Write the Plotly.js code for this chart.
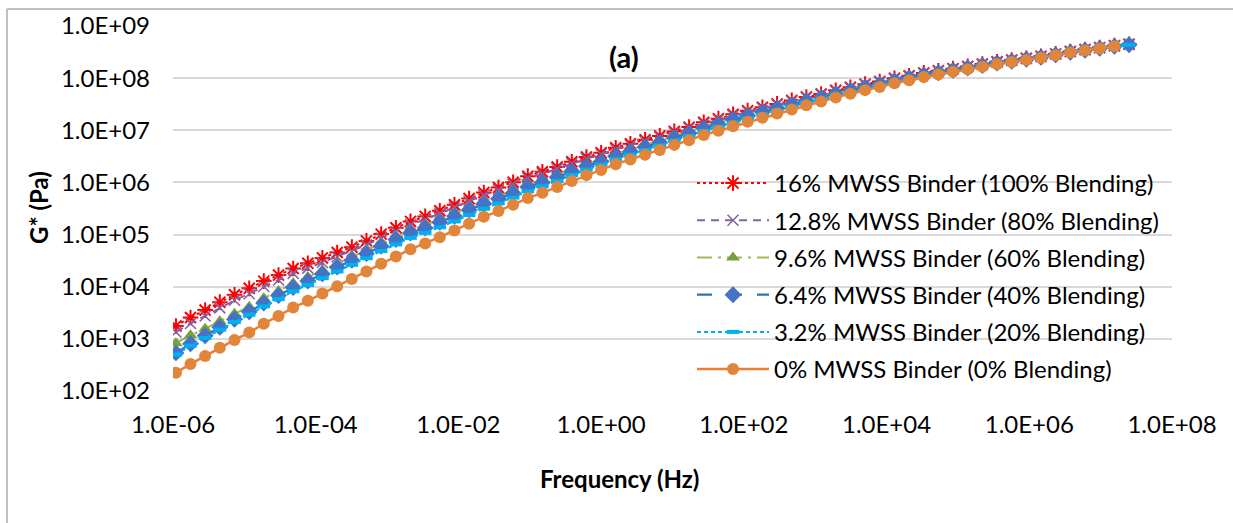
<!DOCTYPE html>
<html>
<head>
<meta charset="utf-8">
<script src="https://cdn.plot.ly/plotly-3.0.1.min.js"></script>
<style>
  html, body { margin: 0; padding: 0; background: #ffffff; }
  #chart { width: 1233px; height: 523px; }
</style>
</head>
<body>
<div id="chart"></div>
<script>
// Frequency (Hz), shared by all series
const frequency = [1.10e-6, 1.76e-6, 2.82e-6, 4.53e-6, 7.28e-6, 1.17e-5, 1.87e-5, 3.01e-5, 4.83e-5, 7.75e-5,
  1.24e-4, 2.00e-4, 3.21e-4, 5.14e-4, 8.26e-4, 1.33e-3, 2.13e-3, 3.42e-3, 5.48e-3, 8.80e-3,
  1.41e-2, 2.27e-2, 3.64e-2, 5.84e-2, 9.38e-2, 0.150, 0.242, 0.388, 0.622, 1.00,
  1.60, 2.57, 4.13, 6.63, 10.6, 17.1, 27.4, 44.0, 70.6, 113,
  182, 292, 469, 752, 1210, 1940, 3110, 5000, 8020, 12900,
  20700, 33200, 53200, 85400, 1.37e5, 2.20e5, 3.53e5, 5.67e5, 9.10e5, 1.46e6,
  2.34e6, 3.76e6, 6.04e6, 9.69e6, 1.56e7, 2.50e7];

// G* (Pa)
const g16 = [1.77e3, 2.57e3, 3.56e3, 5.06e3, 7.02e3, 9.31e3, 1.28e4, 1.67e4, 2.24e4, 2.81e4,
  3.57e4, 4.53e4, 5.74e4, 7.57e4, 1.02e5, 1.35e5, 1.79e5, 2.23e5, 2.86e5, 3.74e5,
  4.90e5, 6.38e5, 7.96e5, 1.01e6, 1.32e6, 1.60e6, 1.98e6, 2.49e6, 3.08e6, 3.72e6,
  4.63e6, 5.51e6, 6.56e6, 7.80e6, 9.53e6, 1.15e7, 1.42e7, 1.67e7, 2.02e7, 2.38e7,
  2.77e7, 3.21e7, 3.74e7, 4.36e7, 4.97e7, 5.83e7, 6.68e7, 7.67e7, 8.61e7, 9.91e7,
  1.11e8, 1.26e8, 1.38e8, 1.52e8, 1.68e8, 1.86e8, 2.06e8, 2.22e8, 2.40e8, 2.62e8,
  2.92e8, 3.25e8, 3.54e8, 3.85e8, 4.20e8, 4.47e8];
const g128 = [1.35e3, 1.97e3, 2.75e3, 3.93e3, 5.48e3, 7.33e3, 1.01e4, 1.34e4, 1.80e4, 2.27e4,
  2.92e4, 3.73e4, 4.78e4, 6.35e4, 8.63e4, 1.15e5, 1.55e5, 1.95e5, 2.52e5, 3.33e5,
  4.38e5, 5.74e5, 7.19e5, 9.20e5, 1.21e6, 1.47e6, 1.82e6, 2.31e6, 2.86e6, 3.47e6,
  4.34e6, 5.16e6, 6.17e6, 7.35e6, 9.00e6, 1.09e7, 1.35e7, 1.59e7, 1.93e7, 2.27e7,
  2.65e7, 3.08e7, 3.60e7, 4.20e7, 4.80e7, 5.65e7, 6.49e7, 7.46e7, 8.39e7, 9.68e7,
  1.09e8, 1.23e8, 1.36e8, 1.50e8, 1.66e8, 1.84e8, 2.03e8, 2.20e8, 2.38e8, 2.59e8,
  2.90e8, 3.23e8, 3.52e8, 3.85e8, 4.19e8, 4.47e8];
const g96 = [8.24e2, 1.17e3, 1.57e3, 2.18e3, 3.03e3, 4.15e3, 5.98e3, 8.24e3, 1.16e4, 1.53e4,
  2.06e4, 2.77e4, 3.72e4, 4.98e4, 6.84e4, 9.16e4, 1.22e5, 1.52e5, 1.95e5, 2.54e5,
  3.31e5, 4.34e5, 5.41e5, 6.92e5, 9.06e5, 1.11e6, 1.39e6, 1.79e6, 2.24e6, 2.75e6,
  3.51e6, 4.27e6, 5.19e6, 6.31e6, 7.83e6, 9.53e6, 1.19e7, 1.41e7, 1.71e7, 2.03e7,
  2.40e7, 2.82e7, 3.33e7, 3.92e7, 4.53e7, 5.35e7, 6.18e7, 7.16e7, 8.09e7, 9.40e7,
  1.07e8, 1.21e8, 1.34e8, 1.49e8, 1.66e8, 1.84e8, 2.04e8, 2.22e8, 2.41e8, 2.62e8,
  2.93e8, 3.28e8, 3.58e8, 3.92e8, 4.28e8, 4.57e8];
const g64 = [5.38e2, 8.04e2, 1.15e3, 1.67e3, 2.38e3, 3.30e3, 4.84e3, 6.76e3, 9.68e3, 1.29e4,
  1.76e4, 2.37e4, 3.20e4, 4.31e4, 5.94e4, 8.00e4, 1.07e5, 1.34e5, 1.72e5, 2.25e5,
  2.96e5, 3.88e5, 4.85e5, 6.22e5, 8.17e5, 1.00e6, 1.26e6, 1.63e6, 2.04e6, 2.51e6,
  3.21e6, 3.91e6, 4.76e6, 5.81e6, 7.23e6, 8.81e6, 1.10e7, 1.31e7, 1.60e7, 1.90e7,
  2.24e7, 2.64e7, 3.11e7, 3.67e7, 4.25e7, 5.02e7, 5.82e7, 6.75e7, 7.64e7, 8.87e7,
  1.01e8, 1.15e8, 1.27e8, 1.42e8, 1.57e8, 1.75e8, 1.95e8, 2.11e8, 2.30e8, 2.51e8,
  2.80e8, 3.13e8, 3.42e8, 3.74e8, 4.08e8, 4.37e8];
const g32 = [5.01e2, 7.40e2, 1.04e3, 1.50e3, 2.11e3, 2.90e3, 4.20e3, 5.79e3, 8.20e3, 1.08e4,
  1.46e4, 1.96e4, 2.63e4, 3.52e4, 4.84e4, 6.49e4, 8.65e4, 1.08e5, 1.38e5, 1.79e5,
  2.37e5, 3.13e5, 3.95e5, 5.12e5, 6.78e5, 8.41e5, 1.07e6, 1.39e6, 1.76e6, 2.19e6,
  2.80e6, 3.42e6, 4.18e6, 5.11e6, 6.37e6, 7.78e6, 9.73e6, 1.16e7, 1.42e7, 1.69e7,
  2.01e7, 2.39e7, 2.84e7, 3.37e7, 3.93e7, 4.68e7, 5.47e7, 6.38e7, 7.28e7, 8.49e7,
  9.68e7, 1.10e8, 1.23e8, 1.37e8, 1.53e8, 1.70e8, 1.90e8, 2.07e8, 2.25e8, 2.47e8,
  2.76e8, 3.10e8, 3.39e8, 3.72e8, 4.07e8, 4.37e8];
const g0 = [2.24e2, 3.31e2, 4.68e2, 6.76e2, 9.55e2, 1.32e3, 1.95e3, 2.75e3, 3.98e3, 5.37e3,
  7.41e3, 1.02e4, 1.41e4, 1.95e4, 2.75e4, 3.80e4, 5.25e4, 6.76e4, 8.91e4, 1.20e5,
  1.62e5, 2.19e5, 2.82e5, 3.72e5, 5.01e5, 6.31e5, 8.13e5, 1.07e6, 1.38e6, 1.74e6,
  2.24e6, 2.75e6, 3.39e6, 4.17e6, 5.25e6, 6.46e6, 8.13e6, 9.77e6, 1.20e7, 1.45e7,
  1.74e7, 2.09e7, 2.51e7, 3.02e7, 3.55e7, 4.27e7, 5.01e7, 5.89e7, 6.76e7, 7.94e7,
  9.12e7, 1.05e8, 1.17e8, 1.32e8, 1.48e8, 1.66e8, 1.86e8, 2.04e8, 2.24e8, 2.45e8,
  2.75e8, 3.09e8, 3.39e8, 3.72e8, 4.07e8];

const seriesNames = [
  "16% MWSS Binder (100% Blending)",
  "12.8% MWSS Binder (80% Blending)",
  "9.6% MWSS Binder (60% Blending)",
  "6.4% MWSS Binder (40% Blending)",
  "3.2% MWSS Binder (20% Blending)",
  "0% MWSS Binder (0% Blending)"
];

const xTickVals = [1e-6, 1e-4, 1e-2, 1e0, 1e2, 1e4, 1e6, 1e8];
const xTickText = ["1.0E-06", "1.0E-04", "1.0E-02", "1.0E+00", "1.0E+02", "1.0E+04", "1.0E+06", "1.0E+08"];
const yTickVals = [1e2, 1e3, 1e4, 1e5, 1e6, 1e7, 1e8, 1e9];
const yTickText = ["1.0E+02", "1.0E+03", "1.0E+04", "1.0E+05", "1.0E+06", "1.0E+07", "1.0E+08", "1.0E+09"];

const FONT = "Lato, 'Open Sans', sans-serif";

const styles = [
  {line: {color: "#FF0000", width: 2, dash: "dot"}, marker: {symbol: "asterisk-open", size: 13, color: "#FF0000", line: {color: "#FF0000", width: 2}}},
  {line: {color: "#8064A2", width: 2, dash: "8px,6px"}, marker: {symbol: "x-thin-open", size: 11, color: "#8064A2", line: {color: "#8064A2", width: 1.5}}},
  {line: {color: "#9BBB59", width: 2, dash: "longdashdot"}, marker: {symbol: "triangle-up", size: 12, color: "#77A03C"}},
  {line: {color: "#2E75B6", width: 2.25, dash: "longdash"}, marker: {symbol: "diamond", size: 13, color: "#4472C4"}},
  {line: {color: "#00B0F0", width: 2, dash: "4px,3px"}, marker: {symbol: "line-ew-open", size: 9, color: "#00B0F0", line: {color: "#00B0F0", width: 4}}},
  {line: {color: "#ED7D31", width: 2.5, dash: "solid"}, marker: {symbol: "circle", size: 12, color: "#E0853A"}}
];
const values = [g16, g128, g96, g64, g32, g0];

const traces = values.map((g, k) => ({
  type: "scatter",
  mode: "lines+markers",
  name: seriesNames[k],
  legendgroup: "g" + k,
  x: frequency.slice(0, g.length),
  y: g,
  line: styles[k].line,
  marker: styles[k].marker
}));

const toPX = (px) => (px - 173) / 999;
const toPY = (py) => (391 - py) / 365;

const layout = {
  width: 1233,
  height: 523,
  margin: {l: 173, r: 61, t: 26, b: 132, pad: 0},
  paper_bgcolor: "#ffffff",
  plot_bgcolor: "#ffffff",
  font: {family: FONT, size: 24, color: "#000000"},
  showlegend: true,
  legend: {
    x: toPX(692), y: toPY(161), xanchor: "left", yanchor: "top",
    bgcolor: "rgba(0,0,0,0)", borderwidth: 0,
    font: {family: FONT, size: 24, color: "#000000"},
    traceorder: "grouped", tracegroupgap: 3, itemwidth: 72
  },
  xaxis: {
    type: "log", range: [-6, 8],
    tickvals: xTickVals, ticktext: xTickText,
    showgrid: false, zeroline: false, showline: false,
    ticks: "", ticklabelstandoff: 17,
    tickfont: {family: FONT, size: 24, color: "#000000"}
  },
  yaxis: {
    type: "log", range: [2, 9],
    tickvals: yTickVals, ticktext: yTickText,
    showgrid: true, gridcolor: "#D9D9D9", gridwidth: 2,
    zeroline: false, showline: false,
    ticks: "", ticklabelstandoff: 22,
    tickfont: {family: FONT, size: 24, color: "#000000"}
  },
  shapes: [
    {type: "line", xref: "paper", yref: "paper", x0: toPX(7), x1: toPX(7), y0: toPY(9), y1: toPY(530), line: {color: "#BFBFBF", width: 2}},
    {type: "line", xref: "paper", yref: "paper", x0: toPX(7), x1: toPX(1240), y0: toPY(9), y1: toPY(9), line: {color: "#BFBFBF", width: 2}}
  ],
  annotations: [
    {text: "<b>(a)</b>", xref: "paper", yref: "paper", x: toPX(624), y: toPY(57), xanchor: "center", yanchor: "middle", showarrow: false, font: {family: FONT, size: 29, color: "#000000"}},
    {text: "<b>Frequency (Hz)</b>", xref: "paper", yref: "paper", x: toPX(619), y: toPY(479), xanchor: "center", yanchor: "middle", showarrow: false, font: {family: FONT, size: 24, color: "#000000"}},
    {text: "<b>G* (Pa)</b>", xref: "paper", yref: "paper", x: toPX(39), y: toPY(208), xanchor: "center", yanchor: "middle", textangle: -90, showarrow: false, font: {family: FONT, size: 24, color: "#000000"}}
  ]
};

Plotly.newPlot("chart", traces, layout, {displayModeBar: false, staticPlot: true});
</script>
</body>
</html>
